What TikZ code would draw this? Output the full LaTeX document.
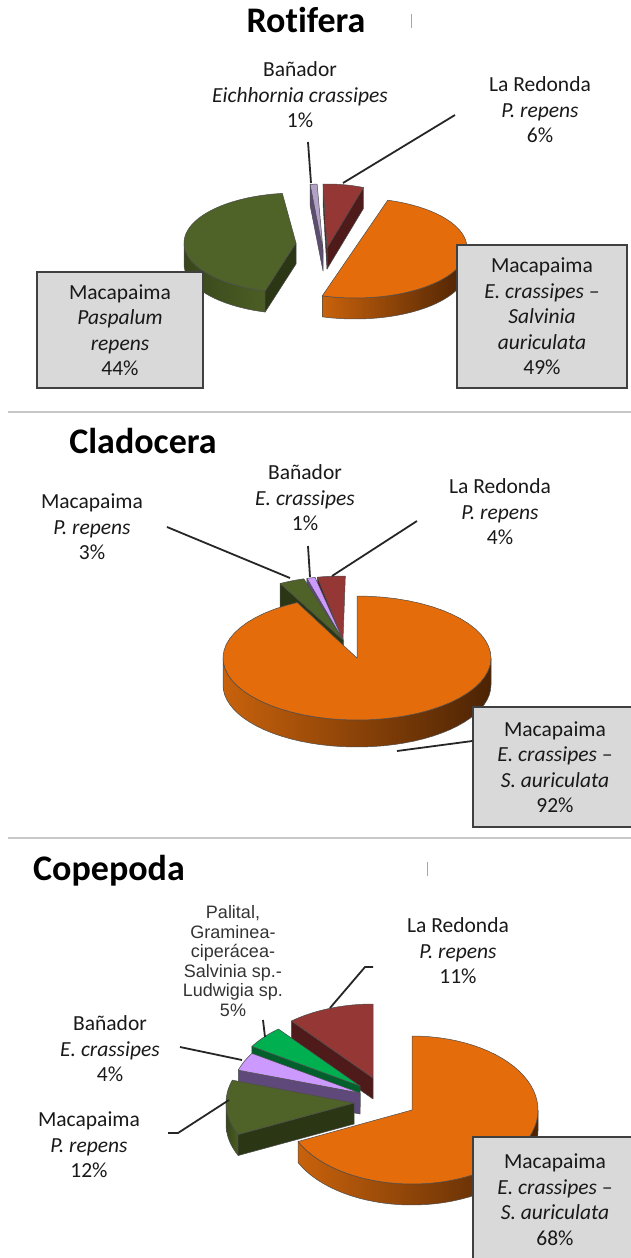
\documentclass[tikz,border=0pt]{standalone}
\usepackage{fontspec}
\setmainfont{Carlito}[Ligatures=NoCommon]
\newfontfamily\arialfont{Liberation Sans}
\definecolor{pieorange}{HTML}{E46C0A}
\definecolor{orangeL}{HTML}{C8620C}
\definecolor{orangeR}{HTML}{4C2304}
\definecolor{olive}{HTML}{4F6228}
\definecolor{oliveface}{HTML}{2B3614}
\definecolor{oliveL}{HTML}{38461A}
\definecolor{oliveR}{HTML}{4C5E25}
\definecolor{wine}{HTML}{953735}
\definecolor{wineface}{HTML}{4E1B1A}
\definecolor{lavender}{HTML}{B3A2C7}
\definecolor{lavface}{HTML}{5D4D73}
\definecolor{violet}{HTML}{CC99FF}
\definecolor{vioface}{HTML}{5F497A}
\definecolor{brightgreen}{HTML}{00B050}
\definecolor{greenface}{HTML}{005F2A}

\tikzset{
  lbl/.style={align=center, inner sep=0pt, text=black!90,
    font=\fontsize{21.5}{25.5}\selectfont},
  lblbox/.style={lbl, draw=black!75, line width=1.3pt, fill=black!15},
  charttitle/.style={anchor=base, inner sep=0pt, font=\fontsize{36}{40}\selectfont\bfseries},
  leader/.style={line width=1.8pt, black!85},
  sepline/.style={line width=2.6pt, black!22},
  rim/.style={draw=black!70, line width=0.5pt, line join=round},
}

% ellipse radii and depth of the current pie
\newcommand{\prx}{112}
\newcommand{\pry}{50}
\newcommand{\pdh}{21}
% slice: centre x, centre y, from, to, top colour, cut colour, wall shading
\newcommand{\pieslice}[7]{%
  \pgfmathsetmacro{\wa}{max(#3,180)}\pgfmathsetmacro{\wb}{min(#4,360)}%
  \ifdim\wa pt<\wb pt
    \path[rim,#7] plot[domain=\wa:\wb,samples=40] ({#1+\prx*cos(\x)},{#2-\pry*sin(\x)})
      -- plot[domain=\wb:\wa,samples=40] ({#1+\prx*cos(\x)},{#2-\pry*sin(\x)+\pdh}) -- cycle;
  \fi
  \pgfmathsetmacro{\wa}{max(#3,-180)}\pgfmathsetmacro{\wb}{min(#4,0)}%
  \ifdim\wa pt<\wb pt
    \path[rim,#7] plot[domain=\wa:\wb,samples=40] ({#1+\prx*cos(\x)},{#2-\pry*sin(\x)})
      -- plot[domain=\wb:\wa,samples=40] ({#1+\prx*cos(\x)},{#2-\pry*sin(\x)+\pdh}) -- cycle;
  \fi
  \pgfmathtruncatemacro{\fs}{cos(#3)>0.02}%
  \ifnum\fs=1
    \path[rim,fill=#6] (#1,#2) -- ({#1+\prx*cos(#3)},{#2-\pry*sin(#3)}) -- ++(0,\pdh)
      -- (#1,{#2+\pdh}) -- cycle;
  \fi
  \pgfmathtruncatemacro{\fe}{cos(#4)<-0.02}%
  \ifnum\fe=1
    \path[rim,fill=#6] (#1,#2) -- ({#1+\prx*cos(#4)},{#2-\pry*sin(#4)}) -- ++(0,\pdh)
      -- (#1,{#2+\pdh}) -- cycle;
  \fi
  \path[rim,fill=#5] (#1,#2) -- plot[domain=#3:#4,samples=60] ({#1+\prx*cos(\x)},{#2-\pry*sin(\x)}) -- cycle;
}

\begin{document}
\begin{tikzpicture}[x=1pt,y=-1pt]
  \useasboundingbox (0,0) rectangle (631,1258);

  %% Rotifera
  \node[charttitle] (rottitle) at (306,32) {Rotifera};
  \draw[black!35, line width=1pt] (411,14) -- (411,28);

  \renewcommand{\prx}{112}\renewcommand{\pry}{64}\renewcommand{\pdh}{21}
  \pieslice{327}{248}{71}{92}{wine}{wineface}{fill=wineface}
  \renewcommand{\pry}{66}
  \pieslice{323}{250}{93}{96.6}{lavender}{lavface}{fill=lavface}
  \renewcommand{\pry}{50}
  \pieslice{296}{243}{97}{254}{olive}{oliveface}{left color=oliveL, right color=oliveR}
  \pieslice{355}{248}{-107}{73}{pieorange}{orangeR}{left color=orangeL, right color=orangeR}

  \node[lbl] (rotban) at (300,95) {Bañador\\\textit{Eichhornia crassipes}\\1\%};
  \node[lbl] (rotred) at (540,110) {La Redonda\\\textit{P. repens}\\6\%};
  \node[lblbox, minimum width=166pt, minimum height=116pt] (rotpas) at (120,330)
    {Macapaima\\\textit{Paspalum}\\\textit{repens}\\44\%};
  \node[lblbox, minimum width=170pt, minimum height=143pt] (rotsal) at (542,316.5)
    {Macapaima\\\textit{E. crassipes –}\\\textit{Salvinia}\\\textit{auriculata}\\49\%};
  \coordinate (rotbanA) at (308,142);
  \coordinate (rotbanB) at (311,183);
  \coordinate (rotredA) at (455,115);
  \coordinate (rotredB) at (343,183);
  \draw[leader] (rotbanA) -- (rotbanB);
  \draw[leader] (rotredA) -- (rotredB);

  \draw[sepline] (8,412) -- (631,412);

  %% Cladocera
  \node[charttitle] (cladtitle) at (143,453) {Cladocera};

  \renewcommand{\prx}{134}\renewcommand{\pry}{64}\renewcommand{\pdh}{27}
  \pieslice{343}{640}{89}{101}{wine}{wineface}{fill=wineface}
  \pieslice{343}{640}{102}{105.6}{violet}{vioface}{fill=vioface}
  \pieslice{343}{640}{107}{118}{olive}{oliveface}{fill=oliveface}
  \renewcommand{\pry}{62}
  \pieslice{357}{658}{116.5}{450}{pieorange}{orangeR}{left color=orangeL, right color=orangeR}

  \node[lbl] (cladmac) at (92,527) {Macapaima\\\textit{P. repens}\\3\%};
  \node[lbl] (cladban) at (305,498) {Bañador\\\textit{E. crassipes}\\1\%};
  \node[lbl] (cladred) at (500,512) {La Redonda\\\textit{P. repens}\\4\%};
  \node[lblbox, minimum width=164pt, minimum height=120pt] (cladsal) at (555,767)
    {Macapaima\\\textit{E. crassipes –}\\\textit{S. auriculata}\\92\%};
  \coordinate (cladmacA) at (167,527);
  \coordinate (cladmacB) at (290,578);
  \coordinate (cladbanA) at (308,546);
  \coordinate (cladbanB) at (310,577);
  \coordinate (cladredA) at (417,521);
  \coordinate (cladredB) at (332,576);
  \coordinate (cladsalB) at (397,751);
  \draw[leader] (cladmacA) -- (cladmacB);
  \draw[leader] (cladbanA) -- (cladbanB);
  \draw[leader] (cladredA) -- (cladredB);
  \draw[leader] (cladsal.west |- 0,741) -- (cladsalB);

  \draw[sepline] (8,838) -- (631,838);

  %% Copepoda
  \node[charttitle] (coptitle) at (109,880) {Copepoda};
  \draw[black!35, line width=1pt] (427,862) -- (427,876);

  \renewcommand{\prx}{128}\renewcommand{\pry}{74}\renewcommand{\pdh}{21}
  \pieslice{373}{1078}{90}{129.6}{wine}{wineface}{fill=wineface}
  \pieslice{360}{1086}{129.6}{147.6}{brightgreen}{greenface}{fill=greenface}
  \pieslice{360}{1093}{147.6}{162}{violet}{vioface}{fill=vioface}
  \pieslice{354}{1103}{162}{205.2}{olive}{oliveface}{left color=oliveL, right color=oliveR}
  \renewcommand{\prx}{126}
  \pieslice{412}{1110}{205.2}{450}{pieorange}{orangeR}{left color=orangeL, right color=orangeR}

  \node[lbl, text=black!80, font=\arialfont\fontsize{18}{19.5}\selectfont] (coppal) at (233,961)
    {Palital,\\Graminea-\\ciperácea-\\Salvinia sp.-\\Ludwigia sp.\\5\%};
  \node[lbl] (copred) at (458,951) {La Redonda\\\textit{P. repens}\\11\%};
  \node[lbl] (copban) at (110,1049) {Bañador\\\textit{E. crassipes}\\4\%};
  \node[lbl] (copmac) at (89,1145) {Macapaima\\\textit{P. repens}\\12\%};
  \node[lblbox, minimum width=164pt, minimum height=125pt] (copsal) at (555,1199.5)
    {Macapaima\\\textit{E. crassipes –}\\\textit{S. auriculata}\\68\%};
  \coordinate (copredA) at (373,967);
  \coordinate (copredK) at (365,967);
  \coordinate (copredB) at (330,1008);
  \coordinate (coppalA) at (263,1020);
  \coordinate (coppalB) at (265,1037);
  \coordinate (copbanA) at (180,1047);
  \coordinate (copbanB) at (242,1060);
  \coordinate (copmacA) at (168,1133);
  \coordinate (copmacK) at (178,1133);
  \coordinate (copmacB) at (229,1100);
  \draw[leader] (copredA) -- (copredK) -- (copredB);
  \draw[leader] (coppalA) -- (coppalB);
  \draw[leader] (copbanA) -- (copbanB);
  \draw[leader] (copmacA) -- (copmacK) -- (copmacB);
\end{tikzpicture}
\end{document}
